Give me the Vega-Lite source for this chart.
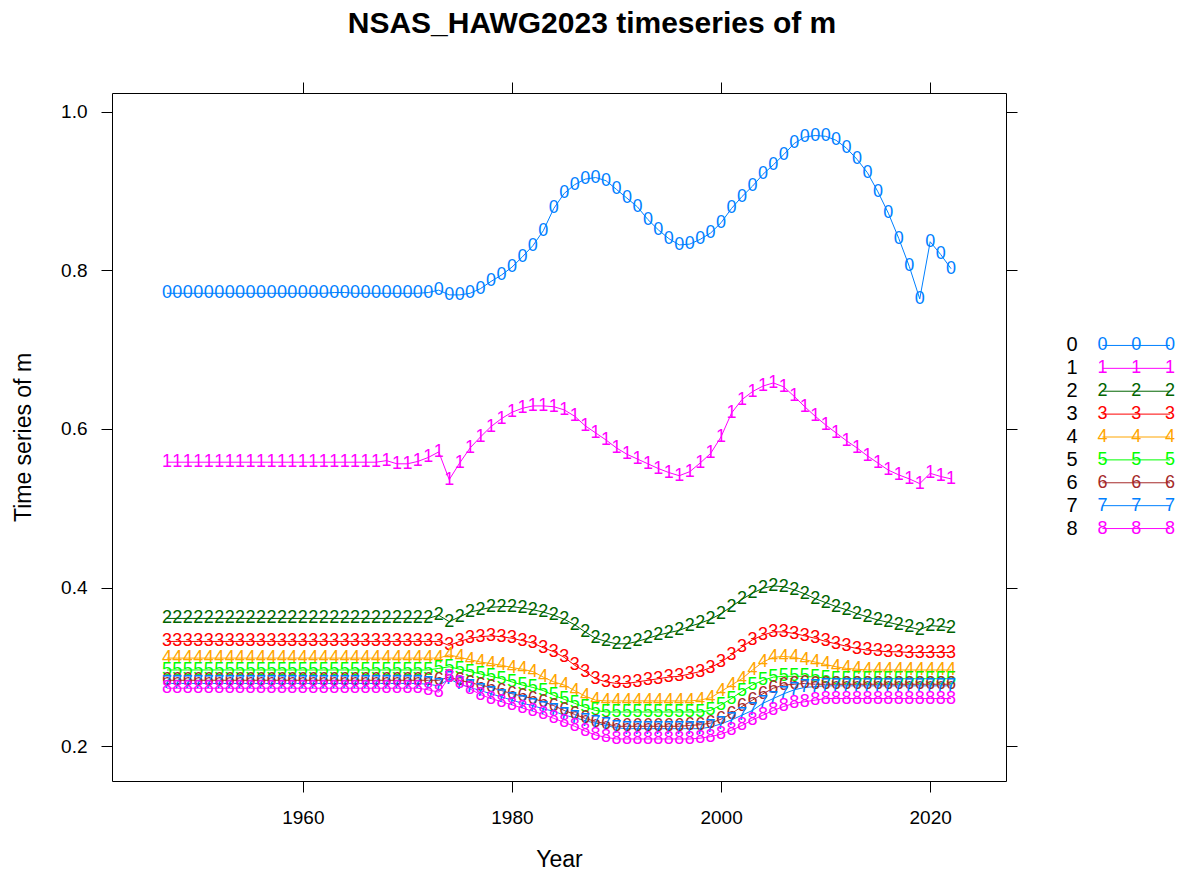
{
"$schema": "https://vega.github.io/schema/vega-lite/v6.json",
"background": "white",
"padding": {"left": 12, "top": 8, "right": 0, "bottom": 0},
"bounds": "flush",
"center": true,
"spacing": 66,
"config": {
  "font": "Liberation Sans",
  "view": {"stroke": "black", "strokeWidth": 1},
  "axis": {"domain": false, "grid": false, "tickColor": "black", "tickWidth": 1, "tickSize": 11, "labelFont": "Liberation Sans", "labelFontSize": 19, "labelColor": "black", "labelPadding": 14, "titleFont": "Liberation Sans", "titleFontSize": 23, "titleFontWeight": "normal", "titleColor": "black"}
},
"datasets": {
"leg": [{"age":"0"},{"age":"1"},{"age":"2"},{"age":"3"},{"age":"4"},{"age":"5"},{"age":"6"},{"age":"7"},{"age":"8"}],
"m": [
{"age":"0","year":1947,"m":0.771},{"age":"0","year":1948,"m":0.771},{"age":"0","year":1949,"m":0.771},{"age":"0","year":1950,"m":0.771},{"age":"0","year":1951,"m":0.771},{"age":"0","year":1952,"m":0.771},{"age":"0","year":1953,"m":0.771},{"age":"0","year":1954,"m":0.771},{"age":"0","year":1955,"m":0.771},{"age":"0","year":1956,"m":0.771},{"age":"0","year":1957,"m":0.771},{"age":"0","year":1958,"m":0.771},{"age":"0","year":1959,"m":0.771},{"age":"0","year":1960,"m":0.771},{"age":"0","year":1961,"m":0.771},{"age":"0","year":1962,"m":0.771},{"age":"0","year":1963,"m":0.772},{"age":"0","year":1964,"m":0.772},{"age":"0","year":1965,"m":0.771},{"age":"0","year":1966,"m":0.771},{"age":"0","year":1967,"m":0.771},{"age":"0","year":1968,"m":0.771},{"age":"0","year":1969,"m":0.771},{"age":"0","year":1970,"m":0.771},{"age":"0","year":1971,"m":0.771},{"age":"0","year":1972,"m":0.772},
{"age":"0","year":1973,"m":0.775},{"age":"0","year":1974,"m":0.769},{"age":"0","year":1975,"m":0.769},{"age":"0","year":1976,"m":0.771},{"age":"0","year":1977,"m":0.777},{"age":"0","year":1978,"m":0.786},{"age":"0","year":1979,"m":0.794},{"age":"0","year":1980,"m":0.804},{"age":"0","year":1981,"m":0.817},{"age":"0","year":1982,"m":0.831},{"age":"0","year":1983,"m":0.850},{"age":"0","year":1984,"m":0.878},{"age":"0","year":1985,"m":0.897},{"age":"0","year":1986,"m":0.908},{"age":"0","year":1987,"m":0.915},{"age":"0","year":1988,"m":0.917},{"age":"0","year":1989,"m":0.913},{"age":"0","year":1990,"m":0.902},{"age":"0","year":1991,"m":0.891},{"age":"0","year":1992,"m":0.880},{"age":"0","year":1993,"m":0.864},{"age":"0","year":1994,"m":0.851},{"age":"0","year":1995,"m":0.840},{"age":"0","year":1996,"m":0.832},{"age":"0","year":1997,"m":0.833},{"age":"0","year":1998,"m":0.839},{"age":"0","year":1999,"m":0.847},{"age":"0","year":2000,"m":0.860},{"age":"0","year":2001,"m":0.878},{"age":"0","year":2002,"m":0.893},{"age":"0","year":2003,"m":0.906},{"age":"0","year":2004,"m":0.921},{"age":"0","year":2005,"m":0.933},{"age":"0","year":2006,"m":0.946},{"age":"0","year":2007,"m":0.960},{"age":"0","year":2008,"m":0.968},{"age":"0","year":2009,"m":0.970},{"age":"0","year":2010,"m":0.969},{"age":"0","year":2011,"m":0.964},{"age":"0","year":2012,"m":0.954},{"age":"0","year":2013,"m":0.940},{"age":"0","year":2014,"m":0.923},{"age":"0","year":2015,"m":0.899},{"age":"0","year":2016,"m":0.872},{"age":"0","year":2017,"m":0.840},{"age":"0","year":2018,"m":0.805},{"age":"0","year":2019,"m":0.764},{"age":"0","year":2020,"m":0.836},{"age":"0","year":2021,"m":0.820},{"age":"0","year":2022,"m":0.802},
{"age":"1","year":1947,"m":0.558},{"age":"1","year":1948,"m":0.558},{"age":"1","year":1949,"m":0.558},{"age":"1","year":1950,"m":0.558},{"age":"1","year":1951,"m":0.558},{"age":"1","year":1952,"m":0.558},{"age":"1","year":1953,"m":0.558},{"age":"1","year":1954,"m":0.558},{"age":"1","year":1955,"m":0.558},{"age":"1","year":1956,"m":0.558},{"age":"1","year":1957,"m":0.558},{"age":"1","year":1958,"m":0.558},{"age":"1","year":1959,"m":0.558},{"age":"1","year":1960,"m":0.558},{"age":"1","year":1961,"m":0.558},{"age":"1","year":1962,"m":0.558},{"age":"1","year":1963,"m":0.558},{"age":"1","year":1964,"m":0.558},{"age":"1","year":1965,"m":0.558},{"age":"1","year":1966,"m":0.558},{"age":"1","year":1967,"m":0.558},{"age":"1","year":1968,"m":0.560},{"age":"1","year":1969,"m":0.556},{"age":"1","year":1970,"m":0.556},{"age":"1","year":1971,"m":0.559},{"age":"1","year":1972,"m":0.564},
{"age":"1","year":1973,"m":0.571},{"age":"1","year":1974,"m":0.536},{"age":"1","year":1975,"m":0.557},{"age":"1","year":1976,"m":0.576},{"age":"1","year":1977,"m":0.590},{"age":"1","year":1978,"m":0.603},{"age":"1","year":1979,"m":0.613},{"age":"1","year":1980,"m":0.621},{"age":"1","year":1981,"m":0.626},{"age":"1","year":1982,"m":0.629},{"age":"1","year":1983,"m":0.629},{"age":"1","year":1984,"m":0.628},{"age":"1","year":1985,"m":0.624},{"age":"1","year":1986,"m":0.616},{"age":"1","year":1987,"m":0.604},{"age":"1","year":1988,"m":0.595},{"age":"1","year":1989,"m":0.586},{"age":"1","year":1990,"m":0.576},{"age":"1","year":1991,"m":0.568},{"age":"1","year":1992,"m":0.562},{"age":"1","year":1993,"m":0.556},{"age":"1","year":1994,"m":0.550},{"age":"1","year":1995,"m":0.545},{"age":"1","year":1996,"m":0.541},{"age":"1","year":1997,"m":0.546},{"age":"1","year":1998,"m":0.557},{"age":"1","year":1999,"m":0.569},{"age":"1","year":2000,"m":0.590},{"age":"1","year":2001,"m":0.620},{"age":"1","year":2002,"m":0.637},{"age":"1","year":2003,"m":0.647},{"age":"1","year":2004,"m":0.654},{"age":"1","year":2005,"m":0.658},{"age":"1","year":2006,"m":0.653},{"age":"1","year":2007,"m":0.641},{"age":"1","year":2008,"m":0.628},{"age":"1","year":2009,"m":0.616},{"age":"1","year":2010,"m":0.605},{"age":"1","year":2011,"m":0.595},{"age":"1","year":2012,"m":0.585},{"age":"1","year":2013,"m":0.576},{"age":"1","year":2014,"m":0.566},{"age":"1","year":2015,"m":0.557},{"age":"1","year":2016,"m":0.548},{"age":"1","year":2017,"m":0.542},{"age":"1","year":2018,"m":0.537},{"age":"1","year":2019,"m":0.531},{"age":"1","year":2020,"m":0.544},{"age":"1","year":2021,"m":0.540},{"age":"1","year":2022,"m":0.537},
{"age":"2","year":1947,"m":0.361},{"age":"2","year":1948,"m":0.361},{"age":"2","year":1949,"m":0.361},{"age":"2","year":1950,"m":0.361},{"age":"2","year":1951,"m":0.361},{"age":"2","year":1952,"m":0.361},{"age":"2","year":1953,"m":0.361},{"age":"2","year":1954,"m":0.361},{"age":"2","year":1955,"m":0.361},{"age":"2","year":1956,"m":0.361},{"age":"2","year":1957,"m":0.361},{"age":"2","year":1958,"m":0.361},{"age":"2","year":1959,"m":0.361},{"age":"2","year":1960,"m":0.361},{"age":"2","year":1961,"m":0.361},{"age":"2","year":1962,"m":0.361},{"age":"2","year":1963,"m":0.361},{"age":"2","year":1964,"m":0.361},{"age":"2","year":1965,"m":0.361},{"age":"2","year":1966,"m":0.361},{"age":"2","year":1967,"m":0.361},{"age":"2","year":1968,"m":0.361},{"age":"2","year":1969,"m":0.361},{"age":"2","year":1970,"m":0.361},{"age":"2","year":1971,"m":0.361},{"age":"2","year":1972,"m":0.361},
{"age":"2","year":1973,"m":0.365},{"age":"2","year":1974,"m":0.357},{"age":"2","year":1975,"m":0.363},{"age":"2","year":1976,"m":0.369},{"age":"2","year":1977,"m":0.372},{"age":"2","year":1978,"m":0.375},{"age":"2","year":1979,"m":0.376},{"age":"2","year":1980,"m":0.376},{"age":"2","year":1981,"m":0.374},{"age":"2","year":1982,"m":0.372},{"age":"2","year":1983,"m":0.369},{"age":"2","year":1984,"m":0.365},{"age":"2","year":1985,"m":0.360},{"age":"2","year":1986,"m":0.353},{"age":"2","year":1987,"m":0.344},{"age":"2","year":1988,"m":0.336},{"age":"2","year":1989,"m":0.332},{"age":"2","year":1990,"m":0.329},{"age":"2","year":1991,"m":0.329},{"age":"2","year":1992,"m":0.332},{"age":"2","year":1993,"m":0.336},{"age":"2","year":1994,"m":0.340},{"age":"2","year":1995,"m":0.343},{"age":"2","year":1996,"m":0.346},{"age":"2","year":1997,"m":0.351},{"age":"2","year":1998,"m":0.355},{"age":"2","year":1999,"m":0.360},{"age":"2","year":2000,"m":0.367},{"age":"2","year":2001,"m":0.376},{"age":"2","year":2002,"m":0.385},{"age":"2","year":2003,"m":0.393},{"age":"2","year":2004,"m":0.399},{"age":"2","year":2005,"m":0.402},{"age":"2","year":2006,"m":0.401},{"age":"2","year":2007,"m":0.397},{"age":"2","year":2008,"m":0.392},{"age":"2","year":2009,"m":0.386},{"age":"2","year":2010,"m":0.381},{"age":"2","year":2011,"m":0.376},{"age":"2","year":2012,"m":0.372},{"age":"2","year":2013,"m":0.367},{"age":"2","year":2014,"m":0.363},{"age":"2","year":2015,"m":0.359},{"age":"2","year":2016,"m":0.356},{"age":"2","year":2017,"m":0.353},{"age":"2","year":2018,"m":0.350},{"age":"2","year":2019,"m":0.347},{"age":"2","year":2020,"m":0.352},{"age":"2","year":2021,"m":0.351},{"age":"2","year":2022,"m":0.349},
{"age":"3","year":1947,"m":0.332},{"age":"3","year":1948,"m":0.332},{"age":"3","year":1949,"m":0.332},{"age":"3","year":1950,"m":0.332},{"age":"3","year":1951,"m":0.332},{"age":"3","year":1952,"m":0.332},{"age":"3","year":1953,"m":0.332},{"age":"3","year":1954,"m":0.332},{"age":"3","year":1955,"m":0.332},{"age":"3","year":1956,"m":0.332},{"age":"3","year":1957,"m":0.332},{"age":"3","year":1958,"m":0.332},{"age":"3","year":1959,"m":0.332},{"age":"3","year":1960,"m":0.332},{"age":"3","year":1961,"m":0.332},{"age":"3","year":1962,"m":0.332},{"age":"3","year":1963,"m":0.332},{"age":"3","year":1964,"m":0.332},{"age":"3","year":1965,"m":0.332},{"age":"3","year":1966,"m":0.332},{"age":"3","year":1967,"m":0.332},{"age":"3","year":1968,"m":0.332},{"age":"3","year":1969,"m":0.332},{"age":"3","year":1970,"m":0.332},{"age":"3","year":1971,"m":0.332},{"age":"3","year":1972,"m":0.332},
{"age":"3","year":1973,"m":0.332},{"age":"3","year":1974,"m":0.327},{"age":"3","year":1975,"m":0.332},{"age":"3","year":1976,"m":0.336},{"age":"3","year":1977,"m":0.338},{"age":"3","year":1978,"m":0.339},{"age":"3","year":1979,"m":0.338},{"age":"3","year":1980,"m":0.336},{"age":"3","year":1981,"m":0.333},{"age":"3","year":1982,"m":0.330},{"age":"3","year":1983,"m":0.324},{"age":"3","year":1984,"m":0.319},{"age":"3","year":1985,"m":0.312},{"age":"3","year":1986,"m":0.302},{"age":"3","year":1987,"m":0.294},{"age":"3","year":1988,"m":0.285},{"age":"3","year":1989,"m":0.281},{"age":"3","year":1990,"m":0.279},{"age":"3","year":1991,"m":0.279},{"age":"3","year":1992,"m":0.281},{"age":"3","year":1993,"m":0.283},{"age":"3","year":1994,"m":0.285},{"age":"3","year":1995,"m":0.287},{"age":"3","year":1996,"m":0.288},{"age":"3","year":1997,"m":0.291},{"age":"3","year":1998,"m":0.294},{"age":"3","year":1999,"m":0.299},{"age":"3","year":2000,"m":0.306},{"age":"3","year":2001,"m":0.315},{"age":"3","year":2002,"m":0.325},{"age":"3","year":2003,"m":0.334},{"age":"3","year":2004,"m":0.340},{"age":"3","year":2005,"m":0.344},{"age":"3","year":2006,"m":0.344},{"age":"3","year":2007,"m":0.342},{"age":"3","year":2008,"m":0.339},{"age":"3","year":2009,"m":0.336},{"age":"3","year":2010,"m":0.332},{"age":"3","year":2011,"m":0.329},{"age":"3","year":2012,"m":0.326},{"age":"3","year":2013,"m":0.323},{"age":"3","year":2014,"m":0.321},{"age":"3","year":2015,"m":0.320},{"age":"3","year":2016,"m":0.319},{"age":"3","year":2017,"m":0.319},{"age":"3","year":2018,"m":0.318},{"age":"3","year":2019,"m":0.318},{"age":"3","year":2020,"m":0.318},{"age":"3","year":2021,"m":0.318},{"age":"3","year":2022,"m":0.318},
{"age":"4","year":1947,"m":0.311},{"age":"4","year":1948,"m":0.311},{"age":"4","year":1949,"m":0.311},{"age":"4","year":1950,"m":0.311},{"age":"4","year":1951,"m":0.311},{"age":"4","year":1952,"m":0.311},{"age":"4","year":1953,"m":0.311},{"age":"4","year":1954,"m":0.311},{"age":"4","year":1955,"m":0.311},{"age":"4","year":1956,"m":0.311},{"age":"4","year":1957,"m":0.311},{"age":"4","year":1958,"m":0.311},{"age":"4","year":1959,"m":0.311},{"age":"4","year":1960,"m":0.311},{"age":"4","year":1961,"m":0.311},{"age":"4","year":1962,"m":0.311},{"age":"4","year":1963,"m":0.311},{"age":"4","year":1964,"m":0.311},{"age":"4","year":1965,"m":0.311},{"age":"4","year":1966,"m":0.311},{"age":"4","year":1967,"m":0.311},{"age":"4","year":1968,"m":0.311},{"age":"4","year":1969,"m":0.311},{"age":"4","year":1970,"m":0.311},{"age":"4","year":1971,"m":0.311},{"age":"4","year":1972,"m":0.311},
{"age":"4","year":1973,"m":0.311},{"age":"4","year":1974,"m":0.315},{"age":"4","year":1975,"m":0.312},{"age":"4","year":1976,"m":0.309},{"age":"4","year":1977,"m":0.306},{"age":"4","year":1978,"m":0.304},{"age":"4","year":1979,"m":0.302},{"age":"4","year":1980,"m":0.299},{"age":"4","year":1981,"m":0.297},{"age":"4","year":1982,"m":0.294},{"age":"4","year":1983,"m":0.287},{"age":"4","year":1984,"m":0.281},{"age":"4","year":1985,"m":0.277},{"age":"4","year":1986,"m":0.270},{"age":"4","year":1987,"m":0.263},{"age":"4","year":1988,"m":0.258},{"age":"4","year":1989,"m":0.257},{"age":"4","year":1990,"m":0.257},{"age":"4","year":1991,"m":0.257},{"age":"4","year":1992,"m":0.257},{"age":"4","year":1993,"m":0.257},{"age":"4","year":1994,"m":0.257},{"age":"4","year":1995,"m":0.257},{"age":"4","year":1996,"m":0.257},{"age":"4","year":1997,"m":0.257},{"age":"4","year":1998,"m":0.258},{"age":"4","year":1999,"m":0.261},{"age":"4","year":2000,"m":0.269},{"age":"4","year":2001,"m":0.277},{"age":"4","year":2002,"m":0.285},{"age":"4","year":2003,"m":0.296},{"age":"4","year":2004,"m":0.306},{"age":"4","year":2005,"m":0.312},{"age":"4","year":2006,"m":0.313},{"age":"4","year":2007,"m":0.312},{"age":"4","year":2008,"m":0.309},{"age":"4","year":2009,"m":0.306},{"age":"4","year":2010,"m":0.303},{"age":"4","year":2011,"m":0.300},{"age":"4","year":2012,"m":0.298},{"age":"4","year":2013,"m":0.297},{"age":"4","year":2014,"m":0.296},{"age":"4","year":2015,"m":0.296},{"age":"4","year":2016,"m":0.296},{"age":"4","year":2017,"m":0.296},{"age":"4","year":2018,"m":0.296},{"age":"4","year":2019,"m":0.296},{"age":"4","year":2020,"m":0.296},{"age":"4","year":2021,"m":0.296},{"age":"4","year":2022,"m":0.296},
{"age":"5","year":1947,"m":0.296},{"age":"5","year":1948,"m":0.296},{"age":"5","year":1949,"m":0.296},{"age":"5","year":1950,"m":0.296},{"age":"5","year":1951,"m":0.296},{"age":"5","year":1952,"m":0.296},{"age":"5","year":1953,"m":0.296},{"age":"5","year":1954,"m":0.296},{"age":"5","year":1955,"m":0.296},{"age":"5","year":1956,"m":0.296},{"age":"5","year":1957,"m":0.296},{"age":"5","year":1958,"m":0.296},{"age":"5","year":1959,"m":0.296},{"age":"5","year":1960,"m":0.296},{"age":"5","year":1961,"m":0.296},{"age":"5","year":1962,"m":0.296},{"age":"5","year":1963,"m":0.296},{"age":"5","year":1964,"m":0.296},{"age":"5","year":1965,"m":0.296},{"age":"5","year":1966,"m":0.296},{"age":"5","year":1967,"m":0.296},{"age":"5","year":1968,"m":0.296},{"age":"5","year":1969,"m":0.296},{"age":"5","year":1970,"m":0.296},{"age":"5","year":1971,"m":0.296},{"age":"5","year":1972,"m":0.296},
{"age":"5","year":1973,"m":0.298},{"age":"5","year":1974,"m":0.300},{"age":"5","year":1975,"m":0.297},{"age":"5","year":1976,"m":0.294},{"age":"5","year":1977,"m":0.291},{"age":"5","year":1978,"m":0.288},{"age":"5","year":1979,"m":0.285},{"age":"5","year":1980,"m":0.281},{"age":"5","year":1981,"m":0.277},{"age":"5","year":1982,"m":0.274},{"age":"5","year":1983,"m":0.270},{"age":"5","year":1984,"m":0.264},{"age":"5","year":1985,"m":0.259},{"age":"5","year":1986,"m":0.254},{"age":"5","year":1987,"m":0.249},{"age":"5","year":1988,"m":0.245},{"age":"5","year":1989,"m":0.243},{"age":"5","year":1990,"m":0.243},{"age":"5","year":1991,"m":0.243},{"age":"5","year":1992,"m":0.243},{"age":"5","year":1993,"m":0.243},{"age":"5","year":1994,"m":0.243},{"age":"5","year":1995,"m":0.243},{"age":"5","year":1996,"m":0.243},{"age":"5","year":1997,"m":0.243},{"age":"5","year":1998,"m":0.243},{"age":"5","year":1999,"m":0.245},{"age":"5","year":2000,"m":0.252},{"age":"5","year":2001,"m":0.260},{"age":"5","year":2002,"m":0.269},{"age":"5","year":2003,"m":0.277},{"age":"5","year":2004,"m":0.283},{"age":"5","year":2005,"m":0.287},{"age":"5","year":2006,"m":0.288},{"age":"5","year":2007,"m":0.288},{"age":"5","year":2008,"m":0.288},{"age":"5","year":2009,"m":0.287},{"age":"5","year":2010,"m":0.286},{"age":"5","year":2011,"m":0.285},{"age":"5","year":2012,"m":0.285},{"age":"5","year":2013,"m":0.285},{"age":"5","year":2014,"m":0.285},{"age":"5","year":2015,"m":0.285},{"age":"5","year":2016,"m":0.285},{"age":"5","year":2017,"m":0.285},{"age":"5","year":2018,"m":0.285},{"age":"5","year":2019,"m":0.285},{"age":"5","year":2020,"m":0.285},{"age":"5","year":2021,"m":0.285},{"age":"5","year":2022,"m":0.285},
{"age":"6","year":1947,"m":0.283},{"age":"6","year":1948,"m":0.283},{"age":"6","year":1949,"m":0.283},{"age":"6","year":1950,"m":0.283},{"age":"6","year":1951,"m":0.283},{"age":"6","year":1952,"m":0.283},{"age":"6","year":1953,"m":0.283},{"age":"6","year":1954,"m":0.283},{"age":"6","year":1955,"m":0.283},{"age":"6","year":1956,"m":0.283},{"age":"6","year":1957,"m":0.283},{"age":"6","year":1958,"m":0.283},{"age":"6","year":1959,"m":0.283},{"age":"6","year":1960,"m":0.283},{"age":"6","year":1961,"m":0.283},{"age":"6","year":1962,"m":0.283},{"age":"6","year":1963,"m":0.283},{"age":"6","year":1964,"m":0.283},{"age":"6","year":1965,"m":0.283},{"age":"6","year":1966,"m":0.283},{"age":"6","year":1967,"m":0.283},{"age":"6","year":1968,"m":0.283},{"age":"6","year":1969,"m":0.283},{"age":"6","year":1970,"m":0.283},{"age":"6","year":1971,"m":0.283},{"age":"6","year":1972,"m":0.283},
{"age":"6","year":1973,"m":0.283},{"age":"6","year":1974,"m":0.287},{"age":"6","year":1975,"m":0.283},{"age":"6","year":1976,"m":0.280},{"age":"6","year":1977,"m":0.277},{"age":"6","year":1978,"m":0.274},{"age":"6","year":1979,"m":0.270},{"age":"6","year":1980,"m":0.266},{"age":"6","year":1981,"m":0.263},{"age":"6","year":1982,"m":0.260},{"age":"6","year":1983,"m":0.256},{"age":"6","year":1984,"m":0.251},{"age":"6","year":1985,"m":0.245},{"age":"6","year":1986,"m":0.240},{"age":"6","year":1987,"m":0.235},{"age":"6","year":1988,"m":0.231},{"age":"6","year":1989,"m":0.228},{"age":"6","year":1990,"m":0.225},{"age":"6","year":1991,"m":0.225},{"age":"6","year":1992,"m":0.225},{"age":"6","year":1993,"m":0.225},{"age":"6","year":1994,"m":0.225},{"age":"6","year":1995,"m":0.225},{"age":"6","year":1996,"m":0.225},{"age":"6","year":1997,"m":0.226},{"age":"6","year":1998,"m":0.227},{"age":"6","year":1999,"m":0.229},{"age":"6","year":2000,"m":0.234},{"age":"6","year":2001,"m":0.241},{"age":"6","year":2002,"m":0.250},{"age":"6","year":2003,"m":0.258},{"age":"6","year":2004,"m":0.266},{"age":"6","year":2005,"m":0.273},{"age":"6","year":2006,"m":0.277},{"age":"6","year":2007,"m":0.278},{"age":"6","year":2008,"m":0.279},{"age":"6","year":2009,"m":0.278},{"age":"6","year":2010,"m":0.278},{"age":"6","year":2011,"m":0.278},{"age":"6","year":2012,"m":0.278},{"age":"6","year":2013,"m":0.278},{"age":"6","year":2014,"m":0.278},{"age":"6","year":2015,"m":0.278},{"age":"6","year":2016,"m":0.278},{"age":"6","year":2017,"m":0.278},{"age":"6","year":2018,"m":0.278},{"age":"6","year":2019,"m":0.278},{"age":"6","year":2020,"m":0.278},{"age":"6","year":2021,"m":0.278},{"age":"6","year":2022,"m":0.278},
{"age":"7","year":1947,"m":0.279},{"age":"7","year":1948,"m":0.279},{"age":"7","year":1949,"m":0.279},{"age":"7","year":1950,"m":0.279},{"age":"7","year":1951,"m":0.279},{"age":"7","year":1952,"m":0.279},{"age":"7","year":1953,"m":0.279},{"age":"7","year":1954,"m":0.279},{"age":"7","year":1955,"m":0.279},{"age":"7","year":1956,"m":0.279},{"age":"7","year":1957,"m":0.279},{"age":"7","year":1958,"m":0.279},{"age":"7","year":1959,"m":0.279},{"age":"7","year":1960,"m":0.279},{"age":"7","year":1961,"m":0.279},{"age":"7","year":1962,"m":0.279},{"age":"7","year":1963,"m":0.279},{"age":"7","year":1964,"m":0.279},{"age":"7","year":1965,"m":0.279},{"age":"7","year":1966,"m":0.279},{"age":"7","year":1967,"m":0.279},{"age":"7","year":1968,"m":0.279},{"age":"7","year":1969,"m":0.279},{"age":"7","year":1970,"m":0.279},{"age":"7","year":1971,"m":0.279},{"age":"7","year":1972,"m":0.278},
{"age":"7","year":1973,"m":0.276},{"age":"7","year":1974,"m":0.285},{"age":"7","year":1975,"m":0.278},{"age":"7","year":1976,"m":0.274},{"age":"7","year":1977,"m":0.270},{"age":"7","year":1978,"m":0.266},{"age":"7","year":1979,"m":0.262},{"age":"7","year":1980,"m":0.258},{"age":"7","year":1981,"m":0.254},{"age":"7","year":1982,"m":0.251},{"age":"7","year":1983,"m":0.247},{"age":"7","year":1984,"m":0.244},{"age":"7","year":1985,"m":0.239},{"age":"7","year":1986,"m":0.236},{"age":"7","year":1987,"m":0.232},{"age":"7","year":1988,"m":0.229},{"age":"7","year":1989,"m":0.226},{"age":"7","year":1990,"m":0.223},{"age":"7","year":1991,"m":0.222},{"age":"7","year":1992,"m":0.222},{"age":"7","year":1993,"m":0.222},{"age":"7","year":1994,"m":0.222},{"age":"7","year":1995,"m":0.222},{"age":"7","year":1996,"m":0.222},{"age":"7","year":1997,"m":0.222},{"age":"7","year":1998,"m":0.222},{"age":"7","year":1999,"m":0.224},{"age":"7","year":2000,"m":0.228},{"age":"7","year":2001,"m":0.233},{"age":"7","year":2002,"m":0.239},{"age":"7","year":2003,"m":0.245},{"age":"7","year":2004,"m":0.254},{"age":"7","year":2005,"m":0.260},{"age":"7","year":2006,"m":0.266},{"age":"7","year":2007,"m":0.271},{"age":"7","year":2008,"m":0.274},{"age":"7","year":2009,"m":0.275},{"age":"7","year":2010,"m":0.276},{"age":"7","year":2011,"m":0.276},{"age":"7","year":2012,"m":0.276},{"age":"7","year":2013,"m":0.276},{"age":"7","year":2014,"m":0.276},{"age":"7","year":2015,"m":0.276},{"age":"7","year":2016,"m":0.276},{"age":"7","year":2017,"m":0.276},{"age":"7","year":2018,"m":0.276},{"age":"7","year":2019,"m":0.276},{"age":"7","year":2020,"m":0.276},{"age":"7","year":2021,"m":0.276},{"age":"7","year":2022,"m":0.276},
{"age":"8","year":1947,"m":0.273},{"age":"8","year":1948,"m":0.273},{"age":"8","year":1949,"m":0.273},{"age":"8","year":1950,"m":0.273},{"age":"8","year":1951,"m":0.273},{"age":"8","year":1952,"m":0.273},{"age":"8","year":1953,"m":0.273},{"age":"8","year":1954,"m":0.273},{"age":"8","year":1955,"m":0.273},{"age":"8","year":1956,"m":0.273},{"age":"8","year":1957,"m":0.273},{"age":"8","year":1958,"m":0.273},{"age":"8","year":1959,"m":0.273},{"age":"8","year":1960,"m":0.273},{"age":"8","year":1961,"m":0.273},{"age":"8","year":1962,"m":0.273},{"age":"8","year":1963,"m":0.273},{"age":"8","year":1964,"m":0.273},{"age":"8","year":1965,"m":0.273},{"age":"8","year":1966,"m":0.273},{"age":"8","year":1967,"m":0.273},{"age":"8","year":1968,"m":0.273},{"age":"8","year":1969,"m":0.273},{"age":"8","year":1970,"m":0.273},{"age":"8","year":1971,"m":0.273},{"age":"8","year":1972,"m":0.271},
{"age":"8","year":1973,"m":0.268},{"age":"8","year":1974,"m":0.287},{"age":"8","year":1975,"m":0.280},{"age":"8","year":1976,"m":0.272},{"age":"8","year":1977,"m":0.265},{"age":"8","year":1978,"m":0.260},{"age":"8","year":1979,"m":0.256},{"age":"8","year":1980,"m":0.252},{"age":"8","year":1981,"m":0.248},{"age":"8","year":1982,"m":0.244},{"age":"8","year":1983,"m":0.240},{"age":"8","year":1984,"m":0.235},{"age":"8","year":1985,"m":0.230},{"age":"8","year":1986,"m":0.225},{"age":"8","year":1987,"m":0.219},{"age":"8","year":1988,"m":0.214},{"age":"8","year":1989,"m":0.211},{"age":"8","year":1990,"m":0.209},{"age":"8","year":1991,"m":0.209},{"age":"8","year":1992,"m":0.209},{"age":"8","year":1993,"m":0.209},{"age":"8","year":1994,"m":0.209},{"age":"8","year":1995,"m":0.209},{"age":"8","year":1996,"m":0.209},{"age":"8","year":1997,"m":0.209},{"age":"8","year":1998,"m":0.210},{"age":"8","year":1999,"m":0.212},{"age":"8","year":2000,"m":0.215},{"age":"8","year":2001,"m":0.220},{"age":"8","year":2002,"m":0.226},{"age":"8","year":2003,"m":0.233},{"age":"8","year":2004,"m":0.239},{"age":"8","year":2005,"m":0.245},{"age":"8","year":2006,"m":0.250},{"age":"8","year":2007,"m":0.254},{"age":"8","year":2008,"m":0.256},{"age":"8","year":2009,"m":0.258},{"age":"8","year":2010,"m":0.260},{"age":"8","year":2011,"m":0.260},{"age":"8","year":2012,"m":0.260},{"age":"8","year":2013,"m":0.260},{"age":"8","year":2014,"m":0.260},{"age":"8","year":2015,"m":0.260},{"age":"8","year":2016,"m":0.260},{"age":"8","year":2017,"m":0.260},{"age":"8","year":2018,"m":0.260},{"age":"8","year":2019,"m":0.260},{"age":"8","year":2020,"m":0.260},{"age":"8","year":2021,"m":0.260},{"age":"8","year":2022,"m":0.260}
]
},
"hconcat": [
{
  "width": 894,
  "height": 688,
  "data": {"name": "m"},
  "title": {"text": "NSAS_HAWG2023 timeseries of m", "font": "Liberation Sans", "fontSize": 30, "fontWeight": "bold", "color": "black", "anchor": "middle", "dx": 33, "offset": 42.5},
  "resolve": {"axis": {"x": "independent", "y": "independent"}},
  "layer": [
    {
      "mark": {"type": "line", "strokeWidth": 1, "clip": true},
      "encoding": {
        "x": {"field": "year", "type": "quantitative", "title": "Year", "scale": {"domain": [1941.75, 2027.25], "nice": false, "zero": false}, "axis": {"orient": "bottom", "values": [1960, 1980, 2000, 2020], "format": "d", "labelPadding": 16.5, "titlePadding": 21}},
        "y": {"field": "m", "type": "quantitative", "title": "Time series of m", "scale": {"domain": [0.156, 1.0236], "nice": false, "zero": false}, "axis": {"orient": "left", "values": [0.2, 0.4, 0.6, 0.8, 1.0], "format": ".1f", "titlePadding": 25}},
        "color": {"field": "age", "type": "nominal", "legend": null, "scale": {"domain": ["0","1","2","3","4","5","6","7","8"], "range": ["#0080ff", "#ff00ff", "#006400", "#ff0000", "#ffa500", "#00ff00", "#a52a2a", "#0080ff", "#ff00ff"]}}
      }
    },
    {
      "mark": {"type": "text", "fontSize": 18, "font": "Liberation Sans", "align": "center", "baseline": "middle", "clip": true},
      "encoding": {
        "x": {"field": "year", "type": "quantitative", "axis": {"orient": "top", "values": [1960, 1980, 2000, 2020], "labels": false, "title": null}},
        "y": {"field": "m", "type": "quantitative", "axis": {"orient": "right", "values": [0.2, 0.4, 0.6, 0.8, 1.0], "labels": false, "title": null}},
        "text": {"field": "age"},
        "color": {"field": "age", "type": "nominal", "legend": null}
      }
    }
  ]
},
{
  "width": 98,
  "height": 206,
  "data": {"name": "leg"},
  "view": {"stroke": null},
  "encoding": {
    "y": {"field": "age", "type": "nominal", "scale": {"type": "point", "padding": 0.5}, "axis": null}
  },
  "layer": [
    {
      "mark": {"type": "rule", "strokeWidth": 1},
      "encoding": {
        "x": {"datum": 0, "type": "quantitative", "scale": {"domain": [-0.9, 2], "nice": false, "zero": false}, "axis": null},
        "x2": {"datum": 2},
        "color": {"field": "age", "type": "nominal", "legend": null}
      }
    },
    {
      "mark": {"type": "text", "fontSize": 18, "font": "Liberation Sans", "align": "center", "baseline": "middle"},
      "encoding": {"x": {"datum": 0, "type": "quantitative"}, "text": {"field": "age"}, "color": {"field": "age", "type": "nominal", "legend": null}}
    },
    {
      "mark": {"type": "text", "fontSize": 18, "font": "Liberation Sans", "align": "center", "baseline": "middle"},
      "encoding": {"x": {"datum": 1, "type": "quantitative"}, "text": {"field": "age"}, "color": {"field": "age", "type": "nominal", "legend": null}}
    },
    {
      "mark": {"type": "text", "fontSize": 18, "font": "Liberation Sans", "align": "center", "baseline": "middle"},
      "encoding": {"x": {"datum": 2, "type": "quantitative"}, "text": {"field": "age"}, "color": {"field": "age", "type": "nominal", "legend": null}}
    },
    {
      "mark": {"type": "text", "fontSize": 20, "font": "Liberation Sans", "align": "center", "baseline": "middle", "color": "black"},
      "encoding": {"x": {"datum": -0.9, "type": "quantitative"}, "text": {"field": "age"}}
    }
  ]
}
]
}
